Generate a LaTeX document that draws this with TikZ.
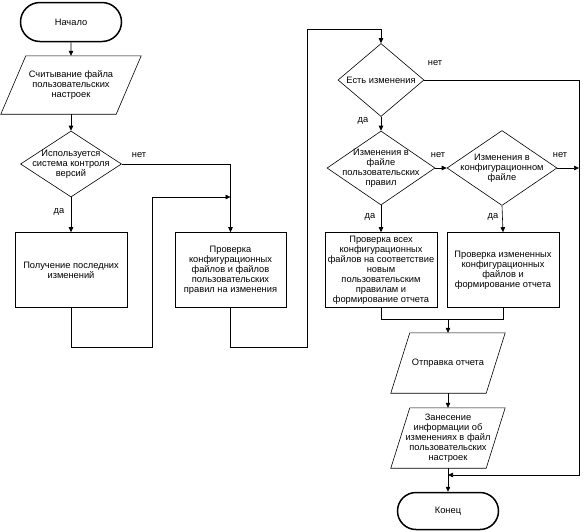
\documentclass[tikz,border=0pt]{standalone}
\usepackage{fontspec}
\setmainfont{Liberation Sans}
\usetikzlibrary{shapes.geometric,shapes.misc,arrows.meta}
\newcommand{\myparashape}[2]{%
  \draw[line] ([xshift=#2]#1.north west) -- ([xshift=#2]#1.north east)
    -- ([xshift=-#2]#1.south east) -- ([xshift=-#2]#1.south west) -- cycle;}
\begin{document}
\begin{tikzpicture}[x=1pt,y=-1pt,
  txt/.style={font=\fontsize{9.3}{10}\selectfont,align=center,inner sep=0pt},
  line/.style={line width=0.6pt},
  arr/.style={line width=0.6pt,-{Triangle[length=5pt,width=4.5pt]}},
  term/.style={draw,rounded rectangle,line width=1.5pt,minimum width=101pt,minimum height=39pt,txt},
  para/.style={rectangle,txt,minimum width=95pt,minimum height=60pt},
  dia/.style={draw,line,diamond,inner sep=0pt},
  box/.style={draw,line,rectangle,minimum width=112pt,minimum height=75pt,txt},
  lab/.style={txt}]
\useasboundingbox (0,0) rectangle (587,531);
% nodes
\node[term] (start) at (71,22) {Начало};
\node[para,minimum width=115pt,minimum height=58pt] (p1) at (71,85) {Считывание файла\\пользовательских\\настроек};
\myparashape{p1}{12.5pt}
\node[dia,minimum width=101pt,minimum height=66pt,
  label={[txt]center:Используется\\система контроля\\версий}] (d1) at (71,164) {};
\node[box] (b1) at (71,270) {Получение последних\\изменений};
\node[box,minimum width=111pt] (b2) at (230.5,270) {Проверка\\конфигурационных\\файлов и файлов\\пользовательских\\правил на изменения};
\node[dia,minimum width=86pt,minimum height=73pt,
  label={[txt]center:Есть изменения}] (d2) at (381,80) {};
\node[dia,minimum width=108pt,minimum height=74pt,
  label={[txt]center:Изменения в\\файле\\пользовательских\\правил}] (d3) at (381,168) {};
\node[dia,minimum width=110pt,minimum height=75pt,
  label={[txt]center:Изменения в\\конфигурационном\\файле}] (d4) at (502,168) {};
\node[box] (b3) at (381,270) {Проверка всех\\конфигурационных\\файлов на соответствие\\новым\\пользовательским\\правилам и\\формирование отчета};
\node[box] (b4) at (503,270) {Проверка измененных\\конфигурационных\\файлов и\\формирование отчета};
\node[para] (p2) at (448,363) {Отправка отчета};
\myparashape{p2}{9.5pt}
\node[para] (p3) at (448,438) {Занесение\\информации об\\изменениях в файл\\пользовательских\\настроек};
\myparashape{p3}{9.5pt}
\node[term,minimum height=37pt] (end) at (448,511) {Конец};
% helper coordinates
\coordinate (j1) at (230.5,197);
\coordinate (l1) at (152,347);
\coordinate (l2) at (307,347);
\coordinate (l3) at (307,29);
\coordinate (r1) at (579,80);
\coordinate (r2) at (579,168);
\coordinate (j2) at (448,475);
\coordinate (m1) at (448,319);
% connectors
\draw[arr] (start) -- (p1);
\draw[arr] (p1) -- (d1);
\draw[arr] (d1.south) -- (b1.north);
\draw[arr] (d1.east) -| (b2.north);
\draw[arr] (b1.south) |- (l1) |- (j1);
\draw[arr] (b2.south) |- (l2) -- (l3) -| (d2.north);
\draw[arr] (d2.east) -- (r1) |- (j2);
\draw[arr] (d2.south) -- (d3.north);
\draw[arr] (d3.east) -- (d4.west);
\draw[arr] (d4.east) -- (r2);
\draw[arr] (d3.south) -- (b3.north);
\draw[arr] (d4.south) -- (b4.north);
\draw[line] (b3.south) |- (m1);
\draw[line] (b4.south) |- (m1);
\draw[arr] (m1) -- (p2.north);
\draw[arr] (p2) -- (p3);
\draw[arr] (p3) -- (end);
% labels
\node[lab] (n1) at (139,155) {нет};
\node[lab] (y1) at (59,212) {да};
\node[lab] (n2) at (435,63) {нет};
\node[lab] (y2) at (363,121) {да};
\node[lab] (n3) at (438,155) {нет};
\node[lab] (n4) at (560,155) {нет};
\node[lab] (y3) at (370,217) {да};
\node[lab] (y4) at (493,217) {да};
\end{tikzpicture}
\end{document}
